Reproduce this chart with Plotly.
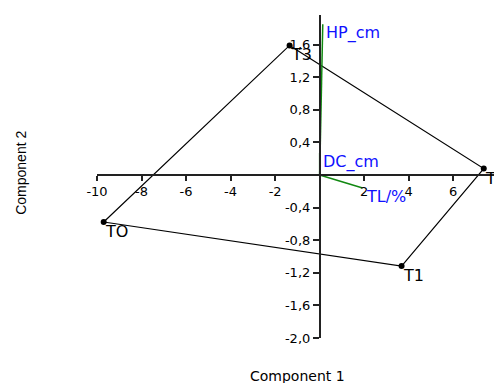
import plotly.graph_objects as go

# PCA scores (component 1, component 2)
groups = ["TO", "T1", "T2", "T3"]
comp1 = [-9.70, 3.68, 7.37, -1.35]
comp2 = [-0.577, -1.117, 0.079, 1.59]

# hull order for the polygon
hull = ["TO", "T3", "T2", "T1", "TO"]

# variable loadings (biplot vectors)
variables = ["HP_cm", "DC_cm", "TL/%"]
load1 = [0.14, 0.0, 1.93]
load2 = [1.85, 0.27, -0.16]

xticks = [-10, -8, -6, -4, -2, 2, 4, 6]
xticklabels = ["-10", "-8", "-6", "-4", "-2", "2", "4", "6"]
yticks = [-2.0, -1.6, -1.2, -0.8, -0.4, 0.4, 0.8, 1.2, 1.6]
yticklabels = ["-2,0", "-1,6", "-1,2", "-0,8", "-0,4", "0,4", "0,8", "1,2", "1,6"]

xr = [-10, 8.19]
yr = [-2.0, 1.963]

fig = go.Figure()

idx = {g: i for i, g in enumerate(groups)}
fig.add_trace(go.Scatter(
    x=[comp1[idx[g]] for g in hull],
    y=[comp2[idx[g]] for g in hull],
    mode="lines",
    line=dict(color="black", width=1.2),
    hoverinfo="skip",
))
fig.add_trace(go.Scatter(
    x=comp1, y=comp2, mode="markers",
    marker=dict(color="black", size=6),
))

for v, a, b in zip(variables, load1, load2):
    fig.add_trace(go.Scatter(
        x=[0, a], y=[0, b], mode="lines",
        line=dict(color="#118811", width=1.5),
    ))
    fig.add_annotation(x=a, y=b, text=v, showarrow=False,
                       xanchor="left", yanchor="top", xshift=1, yshift=3,
                       font=dict(family="DejaVu Sans", size=16, color="#1010ff"))

for g, a, b in zip(groups, comp1, comp2):
    fig.add_annotation(x=a, y=b, text=g, showarrow=False,
                       xanchor="left", yanchor="top", xshift=-1, yshift=2,
                       font=dict(family="DejaVu Sans", size=16, color="black"))

# axis titles
fig.add_annotation(x=0.495, y=-0.119, xref="paper", yref="paper",
                   xanchor="center", yanchor="middle",
                   text="Component 1", showarrow=False,
                   font=dict(family="DejaVu Sans", size=14, color="black"))
fig.add_annotation(x=-0.188, y=0.511, xref="paper", yref="paper",
                   xanchor="center", yanchor="middle", textangle=-90,
                   text="Component 2", showarrow=False,
                   font=dict(family="Liberation Sans", size=14, color="black"))

# page body has an 8px margin, so the figure is shrunk by that amount
fig.update_layout(
    width=494, height=375,
    margin=dict(l=89, r=0, t=7, b=45),
    plot_bgcolor="white", paper_bgcolor="white",
    showlegend=False,
    font=dict(family="DejaVu Sans", size=13, color="black"),
    xaxis=dict(range=xr, anchor="free",
               position=(0 - yr[0]) / (yr[1] - yr[0]),
               showgrid=False, zeroline=False, showline=True,
               linecolor="#222", linewidth=1.5,
               ticks="outside", ticklen=5, tickcolor="#222", tickwidth=1.5,
               tickvals=xticks, ticktext=xticklabels, fixedrange=True),
    yaxis=dict(range=yr, anchor="free",
               position=(0 - xr[0]) / (xr[1] - xr[0]),
               showgrid=False, zeroline=False, showline=True,
               linecolor="#222", linewidth=1.5,
               ticks="outside", ticklen=6, tickcolor="#222", tickwidth=1.5,
               tickvals=yticks, ticktext=yticklabels, fixedrange=True),
)

fig.write_html("out.html")
